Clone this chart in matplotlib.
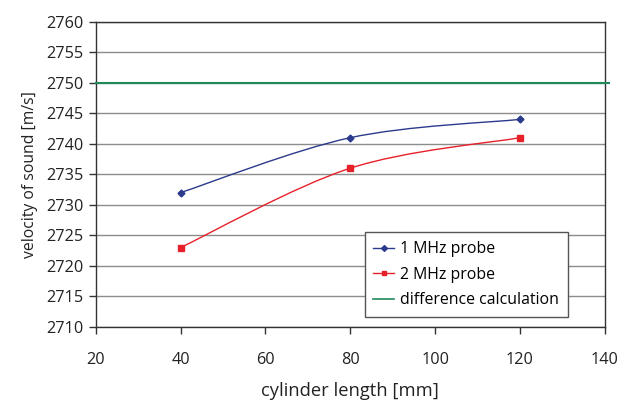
import numpy as np
import matplotlib
matplotlib.use('Agg')
import matplotlib.pyplot as plt
from matplotlib.path import Path
from matplotlib.patches import PathPatch
from matplotlib.lines import Line2D

plt.rcParams['font.family'] = ['Open Sans', 'DejaVu Sans']

# data
length = [40, 80, 120]
probe1 = [2732, 2741, 2744]
probe2 = [2723, 2736, 2741]
calc_x = [20, 141]
calc_y = [2750, 2750]

blue = '#2b3a8c'
red = '#e8202a'
green = '#1f8a5a'


def smooth_path(xs, ys, tension=1.0 / 6):
    """Bezier path through the points, like the smoothed lines of a spreadsheet"""
    pts = np.column_stack([xs, ys]).astype(float)
    verts = [pts[0]]
    codes = [Path.MOVETO]
    n = len(pts)
    for i in range(n - 1):
        p0 = pts[i - 1] if i > 0 else pts[i]
        p1 = pts[i]
        p2 = pts[i + 1]
        p3 = pts[i + 2] if i + 2 < n else pts[i + 1]
        c1 = p1 + (p2 - p0) * tension
        c2 = p2 - (p3 - p1) * tension
        verts += [c1, c2, p2]
        codes += [Path.CURVE4] * 3
    return Path(verts, codes)


fig = plt.figure(figsize=(6.3, 4.03), dpi=100)
ax = fig.add_axes([0.152, 0.189, 0.808, 0.757])

for xs, ys, col in [(length, probe1, blue), (length, probe2, red)]:
    ax.add_patch(PathPatch(smooth_path(xs, ys), facecolor='none',
                           edgecolor=col, lw=1.0, zorder=3))
ax.plot(length, probe1, linestyle='none', marker='D', ms=3.5, color=blue, zorder=4)
ax.plot(length, probe2, linestyle='none', marker='s', ms=4.5, color=red, zorder=4)
ax.plot(calc_x, calc_y, color=green, lw=1.5, zorder=3, clip_on=False)

ax.set_xlim(20, 140)
ax.set_ylim(2710, 2760)
ax.set_xticks(np.arange(20, 141, 20))
ax.set_yticks(np.arange(2710, 2761, 5))
ax.yaxis.grid(True, color='#8c8c8c', lw=1.0)
ax.set_axisbelow(True)
for s in ax.spines.values():
    s.set_color('#333333')
    s.set_linewidth(1.0)
ax.tick_params(direction='out', length=5, width=1, color='#333333',
               labelsize=11.7, labelcolor='#222222', pad=4)
ax.tick_params(axis='x', pad=13)

ax.set_xlabel('cylinder length [mm]', fontsize=13.2, color='#222222', labelpad=10)
ax.set_ylabel('velocity of sound [m/s]', fontsize=11.3, color='#222222', labelpad=6)

handles = [
    Line2D([], [], color=blue, marker='D', ms=3, lw=1.0),
    Line2D([], [], color=red, marker='s', ms=3.5, lw=1.0),
    Line2D([], [], color=green, lw=1.2),
]
leg = ax.legend(handles, ['1 MHz probe', '2 MHz probe', 'difference calculation'],
                loc='lower left', bbox_to_anchor=(0.528, 0.033), borderaxespad=0,
                fontsize=11.4, handlelength=1.3, handletextpad=0.4,
                labelspacing=0.6, borderpad=0.55, fancybox=False, framealpha=1,
                edgecolor='#555555')
leg.get_frame().set_linewidth(1.0)

fig.savefig('out.png', dpi=100)
